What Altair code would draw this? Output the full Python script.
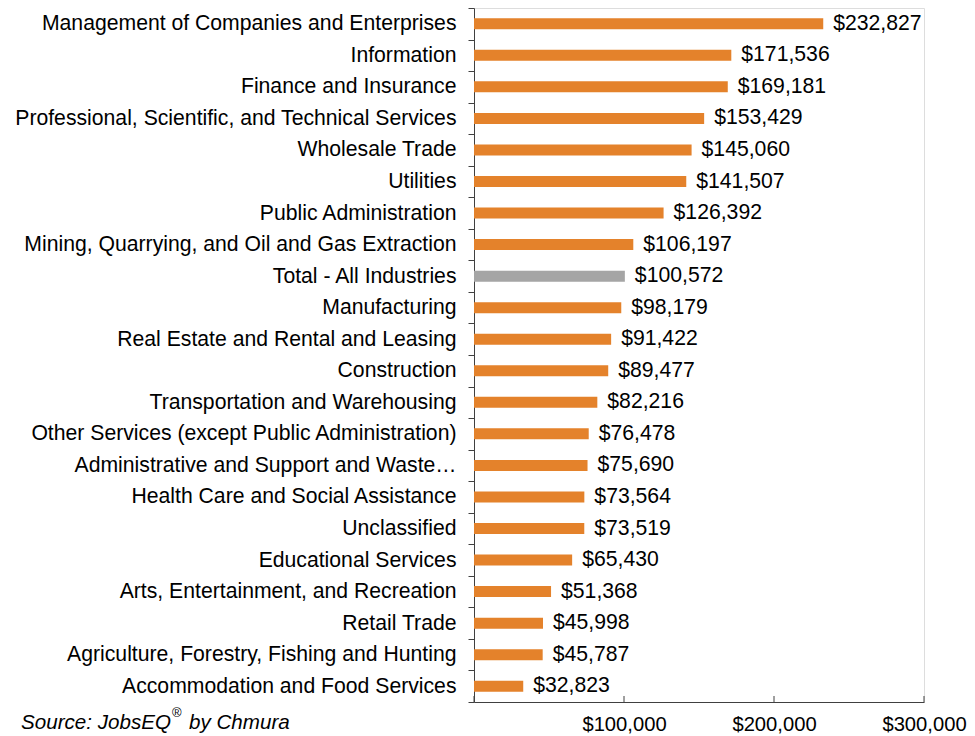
import altair as alt
import pandas as pd

industries = [
    "Management of Companies and Enterprises",
    "Information",
    "Finance and Insurance",
    "Professional, Scientific, and Technical Services",
    "Wholesale Trade",
    "Utilities",
    "Public Administration",
    "Mining, Quarrying, and Oil and Gas Extraction",
    "Total - All Industries",
    "Manufacturing",
    "Real Estate and Rental and Leasing",
    "Construction",
    "Transportation and Warehousing",
    "Other Services (except Public Administration)",
    "Administrative and Support and Waste\u2026",
    "Health Care and Social Assistance",
    "Unclassified",
    "Educational Services",
    "Arts, Entertainment, and Recreation",
    "Retail Trade",
    "Agriculture, Forestry, Fishing and Hunting",
    "Accommodation and Food Services",
]
wages = [232827, 171536, 169181, 153429, 145060, 141507, 126392, 106197,
         100572, 98179, 91422, 89477, 82216, 76478, 75690, 73564, 73519,
         65430, 51368, 45998, 45787, 32823]
groups = ["Industry", "Industry", "Industry", "Industry", "Industry", "Industry",
          "Industry", "Industry", "Total", "Industry", "Industry", "Industry",
          "Industry", "Industry", "Industry", "Industry", "Industry", "Industry",
          "Industry", "Industry", "Industry", "Industry"]
x_ticks = [0, 100000, 200000, 300000]

df = pd.DataFrame({"industry": industries, "wage": wages, "group": groups})
df["label"] = df["wage"].map(lambda v: f"${v:,}")

W, H = 450, 694
LEFT = 466
FONT = "Liberation Sans"
FS = 21.2
AXC = "#404040"

y_enc = alt.Y(
    "industry:N", sort=industries, title=None,
    scale=alt.Scale(paddingInner=0, paddingOuter=0),
    axis=alt.Axis(labelFont=FONT, labelFontSize=FS, labelColor="black",
                  labelLimit=470, tickSize=6, tickBand="extent",
                  tickColor=AXC, domainColor=AXC, labelPadding=12, grid=False),
)
x_enc = alt.X(
    "wage:Q", title=None,
    scale=alt.Scale(domain=[0, 300000], nice=False),
    axis=alt.Axis(values=x_ticks, ticks=False, labelFlush=False,
                  labelExpr="datum.value == 0 ? '' : '$' + format(datum.value, ',')",
                  labelFont=FONT, labelFontSize=20.2, labelColor="black",
                  labelPadding=12, grid=False, domainColor=AXC),
)

bars = alt.Chart(df).mark_bar(size=11).encode(
    x=x_enc, y=y_enc,
    color=alt.Color("group:N",
                    scale=alt.Scale(domain=["Industry", "Total"],
                                    range=["#E4822B", "#A5A5A5"]),
                    legend=None),
)

labels = alt.Chart(df).mark_text(
    align="left", baseline="middle", dx=10, font=FONT, fontSize=FS, color="black"
).encode(
    x="wage:Q", y=alt.Y("industry:N", sort=industries), text="label:N"
)

ticks = alt.Chart(pd.DataFrame({"t": x_ticks})).mark_rule(color=AXC).encode(
    x="t:Q", y=alt.value(H - 6), y2=alt.value(H)
)

src1 = alt.Chart(pd.DataFrame({"s": ["Source: JobsEQ"]})).mark_text(
    align="left", baseline="alphabetic", font=FONT, fontSize=20.6,
    fontStyle="italic", color="black"
).encode(x=alt.value(21 - 8 - LEFT), y=alt.value(721), text="s:N")

src2 = alt.Chart(pd.DataFrame({"s": ["\u00ae"]})).mark_text(
    align="left", baseline="alphabetic", font=FONT, fontSize=13,
    color="black"
).encode(x=alt.value(172 - 8 - LEFT), y=alt.value(709), text="s:N")

src3 = alt.Chart(pd.DataFrame({"s": ["by Chmura"]})).mark_text(
    align="left", baseline="alphabetic", font=FONT, fontSize=20.6,
    fontStyle="italic", color="black"
).encode(x=alt.value(189 - 8 - LEFT), y=alt.value(721), text="s:N")

chart = alt.layer(bars, labels, ticks, src1, src2, src3).properties(
    width=W, height=H,
    autosize=alt.AutoSizeParams(type="none"),
    padding={"left": LEFT, "top": 0, "right": 959 - LEFT - W, "bottom": 34},
).configure_view(stroke=None).configure(background="white")

chart.save("out.html", embed_options={"renderer": "svg", "actions": False})
